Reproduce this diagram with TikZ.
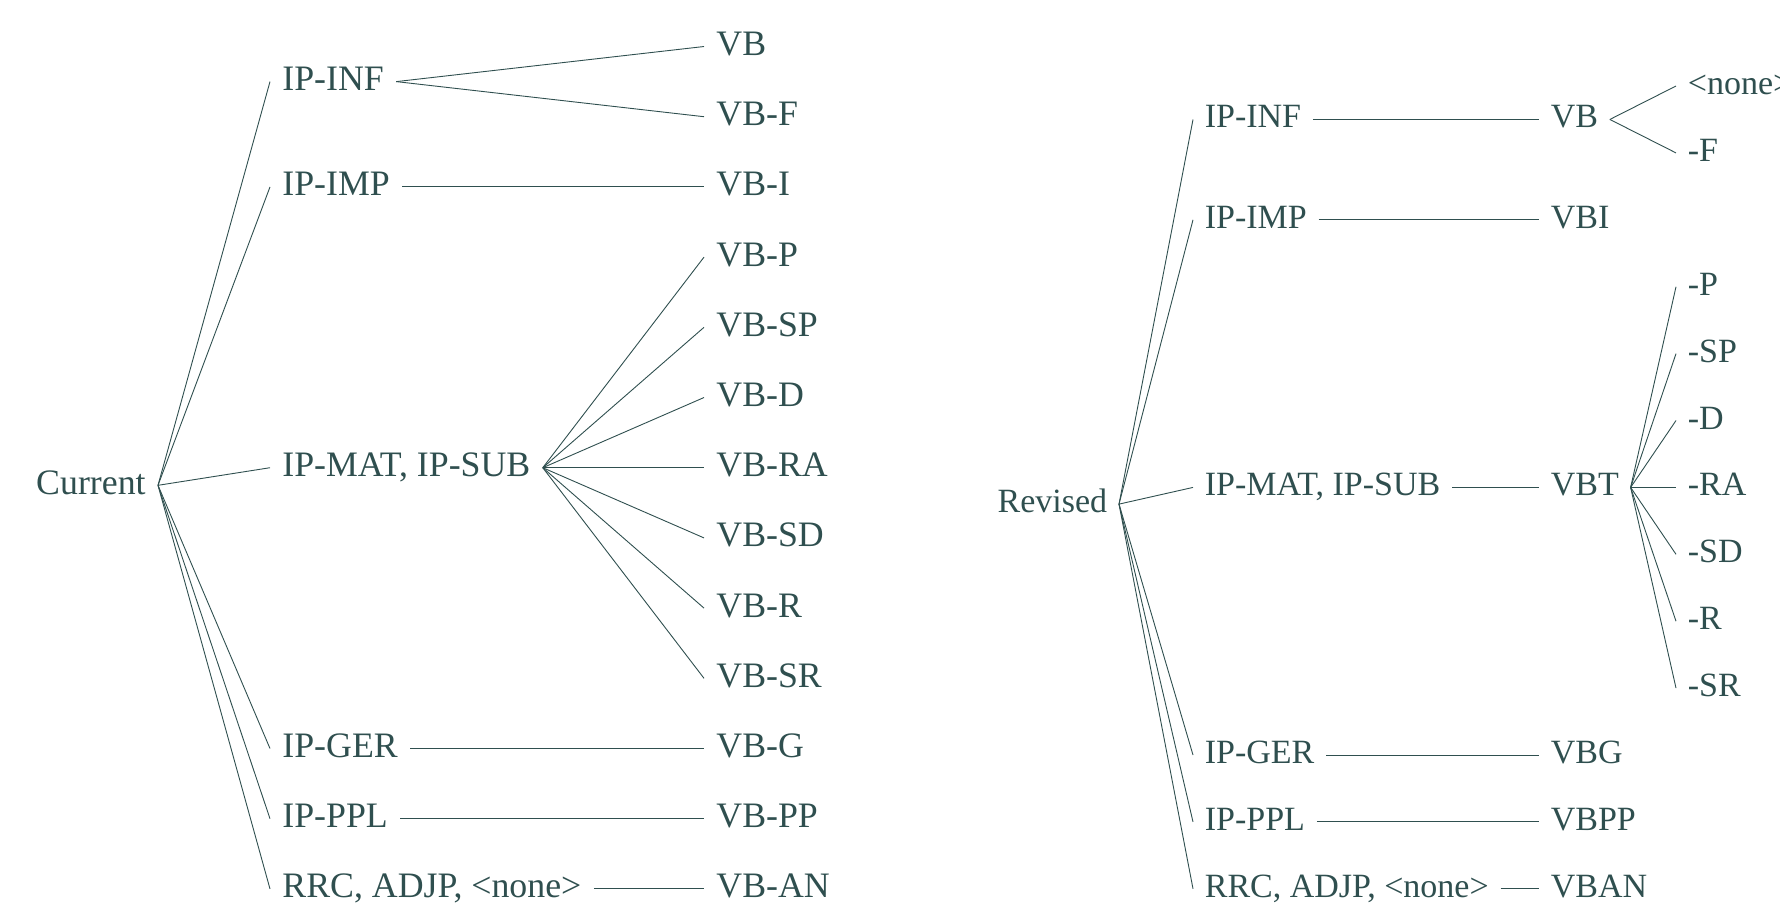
\documentclass[tikz,border=0pt]{standalone}
\usepackage{fontspec}
\setmainfont{Liberation Serif}
\usepackage{xcolor}
\usepackage{tikz}
\definecolor{slate}{HTML}{2F4F4F}

\begin{document}
\begin{tikzpicture}[x=0.5pt,y=-0.5pt,
  tag/.style={text=slate,font=\fontsize{17.9}{21.5}\selectfont,inner xsep=6pt,
              inner ysep=0pt,text height=12.5pt,text depth=3.6pt},
  edge/.style={draw=slate,line width=0.45pt}]
\path[use as bounding box,clip] (0,0) rectangle (1780,902);

% current
\node[tag,anchor=east] (cur) at (158,485.3) {Current};

\node[tag,anchor=west] (cinf) at (270,81.6) {IP-INF};
\node[tag,anchor=west] (cimp) at (270,186.9) {IP-IMP};
\node[tag,anchor=west] (cmat) at (270,467.7) {IP-MAT, IP-SUB};
\node[tag,anchor=west] (cger) at (270,748.5) {IP-GER};
\node[tag,anchor=west] (cppl) at (270,818.7) {IP-PPL};
\node[tag,anchor=west] (crrc) at (270,888.9) {RRC, ADJP, <none>};

\node[tag,anchor=west] (cvb)   at (704,46.5)  {VB};
\node[tag,anchor=west] (cvbf)  at (704,116.7) {VB-F};
\node[tag,anchor=west] (cvbi)  at (704,186.9) {VB-I};
\node[tag,anchor=west] (cvbp)  at (704,257.1) {VB-P};
\node[tag,anchor=west] (cvbsp) at (704,327.3) {VB-SP};
\node[tag,anchor=west] (cvbd)  at (704,397.5) {VB-D};
\node[tag,anchor=west] (cvbra) at (704,467.7) {VB-RA};
\node[tag,anchor=west] (cvbsd) at (704,537.9) {VB-SD};
\node[tag,anchor=west] (cvbr)  at (704,608.1) {VB-R};
\node[tag,anchor=west] (cvbsr) at (704,678.3) {VB-SR};
\node[tag,anchor=west] (cvbg)  at (704,748.5) {VB-G};
\node[tag,anchor=west] (cvbpp) at (704,818.7) {VB-PP};
\node[tag,anchor=west] (cvban) at (704,888.9) {VB-AN};

\draw[edge] (cur.east) -- (cinf.west);
\draw[edge] (cur.east) -- (cimp.west);
\draw[edge] (cur.east) -- (cmat.west);
\draw[edge] (cur.east) -- (cger.west);
\draw[edge] (cur.east) -- (cppl.west);
\draw[edge] (cur.east) -- (crrc.west);

\draw[edge] (cinf.east) -- (cvb.west);
\draw[edge] (cinf.east) -- (cvbf.west);
\draw[edge] (cimp.east) -- (cvbi.west);
\draw[edge] (cmat.east) -- (cvbp.west);
\draw[edge] (cmat.east) -- (cvbsp.west);
\draw[edge] (cmat.east) -- (cvbd.west);
\draw[edge] (cmat.east) -- (cvbra.west);
\draw[edge] (cmat.east) -- (cvbsd.west);
\draw[edge] (cmat.east) -- (cvbr.west);
\draw[edge] (cmat.east) -- (cvbsr.west);
\draw[edge] (cger.east) -- (cvbg.west);
\draw[edge] (cppl.east) -- (cvbpp.west);
\draw[edge] (crrc.east) -- (cvban.west);

% revised
\begin{scope}[tag/.append style={font=\fontsize{17}{20.4}\selectfont,inner xsep=5.7pt,
              text height=11.9pt,text depth=3.4pt}]
\node[tag,anchor=east] (rev) at (1119,504.1) {Revised};

\node[tag,anchor=west] (rinf) at (1193,119.45) {IP-INF};
\node[tag,anchor=west] (rimp) at (1193,219.8) {IP-IMP};
\node[tag,anchor=west] (rmat) at (1193,487.4) {IP-MAT, IP-SUB};
\node[tag,anchor=west] (rger) at (1193,755) {IP-GER};
\node[tag,anchor=west] (rppl) at (1193,821.9) {IP-PPL};
\node[tag,anchor=west] (rrrc) at (1193,888.8) {RRC, ADJP, <none>};

\node[tag,anchor=west] (rvb)   at (1539,119.45) {VB};
\node[tag,anchor=west] (rvbi)  at (1539,219.8) {VBI};
\node[tag,anchor=west] (rvbt)  at (1539,487.4) {VBT};
\node[tag,anchor=west] (rvbg)  at (1539,755) {VBG};
\node[tag,anchor=west] (rvbpp) at (1539,821.9) {VBPP};
\node[tag,anchor=west] (rvban) at (1539,888.8) {VBAN};

\node[tag,anchor=west] (rnone) at (1676,86) {<none>};
\node[tag,anchor=west] (rf)    at (1676,152.9) {-F};
\node[tag,anchor=west] (rp)    at (1676,286.7) {-P};
\node[tag,anchor=west] (rsp)   at (1676,353.6) {-SP};
\node[tag,anchor=west] (rd)    at (1676,420.5) {-D};
\node[tag,anchor=west] (rra)   at (1676,487.4) {-RA};
\node[tag,anchor=west] (rsd)   at (1676,554.3) {-SD};
\node[tag,anchor=west] (rr)    at (1676,621.2) {-R};
\node[tag,anchor=west] (rsr)   at (1676,688.1) {-SR};
\end{scope}

\draw[edge] (rev.east) -- (rinf.west);
\draw[edge] (rev.east) -- (rimp.west);
\draw[edge] (rev.east) -- (rmat.west);
\draw[edge] (rev.east) -- (rger.west);
\draw[edge] (rev.east) -- (rppl.west);
\draw[edge] (rev.east) -- (rrrc.west);

\draw[edge] (rinf.east) -- (rvb.west);
\draw[edge] (rimp.east) -- (rvbi.west);
\draw[edge] (rmat.east) -- (rvbt.west);
\draw[edge] (rger.east) -- (rvbg.west);
\draw[edge] (rppl.east) -- (rvbpp.west);
\draw[edge] (rrrc.east) -- (rvban.west);

\draw[edge] (rvb.east) -- (rnone.west);
\draw[edge] (rvb.east) -- (rf.west);
\draw[edge] (rvbt.east) -- (rp.west);
\draw[edge] (rvbt.east) -- (rsp.west);
\draw[edge] (rvbt.east) -- (rd.west);
\draw[edge] (rvbt.east) -- (rra.west);
\draw[edge] (rvbt.east) -- (rsd.west);
\draw[edge] (rvbt.east) -- (rr.west);
\draw[edge] (rvbt.east) -- (rsr.west);
\end{tikzpicture}
\end{document}
